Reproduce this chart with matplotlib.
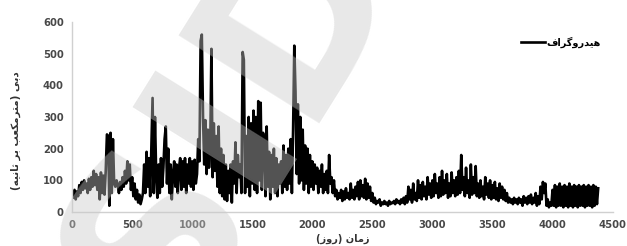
import numpy as np
import matplotlib
matplotlib.use("Agg")
import matplotlib.pyplot as plt

step = 10
flow = [
    60, 45, 70, 40, 65, 50, 85, 60, 95, 70,
    100, 75, 90, 60, 105, 70, 110, 80, 130, 85,
    120, 70, 110, 40, 125, 60, 115, 55, 130, 245,
    240, 20, 250, 60, 230, 90, 80, 100, 85, 60,
    95, 70, 110, 80, 130, 90, 160, 100, 150, 70,
    110, 50, 90, 40, 70, 30, 55, 25, 40, 60,
    150, 60, 190, 80, 170, 50, 200, 360, 60, 300,
    120, 45, 150, 60, 170, 80, 140, 230, 270, 90,
    200, 60, 150, 40, 120, 160, 80, 150, 60, 140,
    170, 70, 160, 80, 170, 60, 150, 90, 170, 80,
    160, 70, 165, 90, 120, 230, 160, 540, 560, 300,
    150, 290, 120, 260, 140, 200, 515, 110, 280, 130,
    240, 80, 270, 60, 200, 50, 180, 40, 150, 35,
    130, 60, 150, 30, 160, 90, 220, 60, 180, 110,
    150, 60, 505, 480, 60, 240, 80, 300, 50, 280,
    90, 320, 70, 300, 60, 350, 100, 345, 70, 250,
    220, 50, 270, 80, 190, 40, 180, 80, 200, 60,
    170, 50, 150, 90, 160, 60, 210, 80, 180, 70,
    200, 90, 230, 60, 260, 525, 380, 120, 340, 90,
    300, 100, 260, 70, 210, 90, 200, 60, 180, 80,
    160, 70, 150, 90, 140, 60, 130, 80, 150, 60,
    120, 70, 130, 60, 180, 90, 110, 60, 100, 50,
    70, 40, 60, 45, 70, 35, 65, 40, 75, 45,
    60, 40, 90, 45, 70, 40, 80, 50, 95, 40,
    100, 50, 85, 45, 105, 40, 90, 45, 80, 35,
    60, 30, 45, 25, 35, 30, 40, 20, 30, 25,
    35, 25, 30, 20, 35, 25, 30, 28, 35, 25,
    40, 30, 35, 25, 40, 30, 45, 25, 50, 30,
    80, 40, 70, 30, 90, 40, 60, 35, 100, 45,
    85, 40, 95, 50, 80, 40, 110, 55, 90, 45,
    100, 50, 120, 60, 90, 45, 110, 50, 130, 55,
    100, 60, 120, 45, 90, 50, 125, 60, 100, 50,
    110, 55, 130, 60, 180, 70, 110, 50, 140, 60,
    100, 45, 150, 55, 110, 60, 145, 50, 90, 45,
    100, 50, 80, 40, 110, 55, 90, 45, 100, 40,
    85, 45, 95, 40, 75, 35, 90, 45, 80, 40,
    70, 35, 60, 30, 45, 30, 40, 25, 45, 30,
    40, 25, 45, 30, 40, 20, 50, 30, 45, 25,
    50, 30, 55, 25, 45, 30, 60, 20, 50, 25,
    80, 40, 95, 60, 90, 20, 40, 15, 30, 20,
    70, 20, 85, 15, 80, 20, 90, 20, 80, 15,
    85, 20, 80, 15, 90, 20, 80, 15, 85, 20,
    80, 15, 85, 20, 80, 20, 85, 15, 80, 20,
    85, 20, 80, 15, 85, 20, 80, 25, 75,
]
day = np.arange(len(flow)) * step

x_ticks = [0, 500, 1000, 1500, 2000, 2500, 3000, 3500, 4000, 4500]
y_ticks = [0, 100, 200, 300, 400, 500, 600]

legend_label = "هیدروگراف"
y_label = "دبی (مترمکعب بر ثانیه)"
x_label = "زمان (روز)"

# matplotlib has no arabic shaping, so do a small one by hand
FORMS = {
    "ا": ("\uFE8D", "\uFE8E", None, None),
    "ب": ("\uFE8F", "\uFE90", "\uFE91", "\uFE92"),
    "ت": ("\uFE95", "\uFE96", "\uFE97", "\uFE98"),
    "ث": ("\uFE99", "\uFE9A", "\uFE9B", "\uFE9C"),
    "د": ("\uFEA9", "\uFEAA", None, None),
    "ر": ("\uFEAD", "\uFEAE", None, None),
    "ز": ("\uFEAF", "\uFEB0", None, None),
    "ع": ("\uFEC9", "\uFECA", "\uFECB", "\uFECC"),
    "ف": ("\uFED1", "\uFED2", "\uFED3", "\uFED4"),
    "م": ("\uFEE1", "\uFEE2", "\uFEE3", "\uFEE4"),
    "ن": ("\uFEE5", "\uFEE6", "\uFEE7", "\uFEE8"),
    "ه": ("\uFEE9", "\uFEEA", "\uFEEB", "\uFEEC"),
    "و": ("\uFEED", "\uFEEE", None, None),
    "ک": ("\uFB8E", "\uFB8F", "\uFB90", "\uFB91"),
    "گ": ("\uFB92", "\uFB93", "\uFB94", "\uFB95"),
    "ی": ("\uFBFC", "\uFBFD", "\uFBFE", "\uFBFF"),
}
MIRROR = {"(": ")", ")": "("}


def shape(text):
    out = []
    for i, ch in enumerate(text):
        if ch not in FORMS:
            out.append(MIRROR.get(ch, ch))
            continue
        prev = text[i - 1] if i > 0 else ""
        nxt = text[i + 1] if i + 1 < len(text) else ""
        join_prev = prev in FORMS and FORMS[prev][2] is not None
        join_next = FORMS[ch][2] is not None and nxt in FORMS
        iso, fin, ini, med = FORMS[ch]
        if join_prev and join_next:
            out.append(med)
        elif join_prev:
            out.append(fin)
        elif join_next:
            out.append(ini)
        else:
            out.append(iso)
    return "".join(reversed(out))


plt.rcParams["font.family"] = ["DejaVu Sans"]

fig = plt.figure(figsize=(6.27, 2.46), dpi=100)
ax = fig.add_axes([0.115, 0.138, 0.862, 0.773])

ax.plot(day, flow, color="black", lw=1.9, label=shape(legend_label))

ax.set_xlim(0, 4500)
ax.set_ylim(0, 600)
ax.set_xticks(x_ticks)
ax.set_yticks(y_ticks)
ax.tick_params(length=0, labelsize=7.2, colors="#484848", pad=6)
for t in ax.get_xticklabels() + ax.get_yticklabels():
    t.set_fontweight("bold")

for s in ["top", "right"]:
    ax.spines[s].set_visible(False)
for s in ["left", "bottom"]:
    ax.spines[s].set_color("#d0d0d0")
    ax.spines[s].set_linewidth(1.0)

ax.set_xlabel(shape(x_label), fontsize=7, fontweight="bold", color="#333333")
ax.xaxis.set_label_coords(0.5, -0.115)
ax.set_ylabel(shape(y_label), fontsize=7.5, fontweight="bold", color="#333333")
ax.yaxis.set_label_coords(-0.095, 0.43)

leg = ax.legend(loc="upper right", bbox_to_anchor=(0.995, 0.97), frameon=False,
                fontsize=7, handlelength=2.4, handletextpad=0.2)
for t in leg.get_texts():
    t.set_fontweight("bold")

# watermark sitting on top of the plot
fig.text(0.37, 0.52, "SID", fontsize=165, fontweight="bold", color="#c9c9c9",
         alpha=0.42, rotation=58, ha="center", va="center", zorder=20)

fig.savefig("out.png", dpi=100)
